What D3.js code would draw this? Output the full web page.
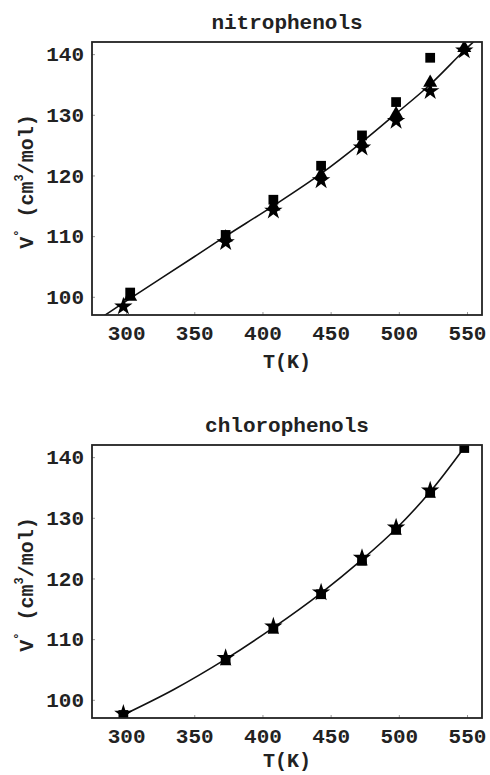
<!DOCTYPE html>
<html>
<head>
<meta charset="utf-8">
<script src="https://cdn.jsdelivr.net/npm/d3@7"></script>
<style>
  body { margin: 0; background: #fff; }
  text { font-family: "Liberation Mono", "Courier New", monospace; font-weight: bold; fill: #222; }
</style>
</head>
<body>
<svg id="chart" width="490" height="775"></svg>
<script>
// nitrophenols
const nitroSquareT = [303, 373, 408, 443, 473, 498, 523];
const nitroSquareV = [100.7, 110.2, 116.0, 121.6, 126.6, 132.1, 139.4];
const nitroTriangleT = [303, 373, 408, 443, 473, 498, 523, 548];
const nitroTriangleV = [100.0, 109.8, 114.9, 120.1, 125.3, 130.1, 135.3, 141.0];
const nitroStarT = [298, 373, 408, 443, 473, 498, 523, 548];
const nitroStarV = [98.4, 109.0, 114.2, 119.2, 124.6, 129.0, 133.9, 140.6];
const nitroFitT = [284, 300, 350, 373, 408, 443, 473, 498, 523, 548, 561];
const nitroFitV = [96.9, 99.3, 106.6, 110.0, 115.0, 120.3, 125.5, 130.2, 135.0, 140.6, 143.3];

// chlorophenols
const chloroSquareT = [298, 373, 408, 443, 473, 498, 523, 548];
const chloroSquareV = [97.5, 106.5, 111.7, 117.4, 122.9, 128.0, 134.1, 141.5];
const chloroStarT = [298, 373, 408, 443, 473, 498, 523];
const chloroStarV = [97.7, 106.9, 112.1, 117.7, 123.4, 128.4, 134.5];
const chloroFitT = [296, 335, 373, 408, 443, 473, 498, 523, 548];
const chloroFitV = [97.3, 101.7, 106.7, 111.9, 117.6, 123.1, 128.2, 134.3, 141.6];

const xTicks = [300, 350, 400, 450, 500, 550];
const yTicks = [100, 110, 120, 130, 140];

const svg = d3.select("#chart");
const zip = (T, V) => T.map((t, i) => ({ t, v: V[i] }));

const panels = [
  { title: "nitrophenols", top: 42, labelGap: 53,
    fit: zip(nitroFitT, nitroFitV),
    marks: [
      { shape: "square", data: zip(nitroSquareT, nitroSquareV) },
      { shape: "triangle", data: zip(nitroTriangleT, nitroTriangleV) },
      { shape: "star", data: zip(nitroStarT, nitroStarV) }
    ] },
  { title: "chlorophenols", top: 445, labelGap: 49,
    fit: zip(chloroFitT, chloroFitV),
    marks: [
      { shape: "square", data: zip(chloroSquareT, chloroSquareV) },
      { shape: "star", data: zip(chloroStarT, chloroStarV) }
    ] }
];

const left = 92, right = 482, plotH = 273;

const x = d3.scaleLinear().domain([275, 561]).range([left, right]);

const symbols = {
  square: d3.symbol().type(d3.symbolSquare).size(95)(),
  triangle: d3.symbol().type(d3.symbolTriangle).size(85)(),
  star: d3.symbol().type(d3.symbolStar).size(105)()
};

panels.forEach((p, k) => {
  const y = d3.scaleLinear().domain([97, 142]).range([p.top + plotH, p.top]);
  const g = svg.append("g");
  const clipId = "clip" + k;

  g.append("clipPath").attr("id", clipId)
    .append("rect")
      .attr("x", left).attr("y", p.top)
      .attr("width", right - left).attr("height", plotH);

  // axes: tiny inward ticks, labels outside
  const xAxis = g.append("g")
    .attr("transform", `translate(0,${p.top + plotH})`)
    .call(d3.axisBottom(x).tickValues(xTicks).tickSize(-3).tickPadding(10));
  const yAxis = g.append("g")
    .attr("transform", `translate(${left},0)`)
    .call(d3.axisLeft(y).tickValues(yTicks).tickSize(-3).tickPadding(8));

  [xAxis, yAxis].forEach(a => {
    a.select(".domain").remove();
    a.selectAll(".tick line").attr("stroke", "#999");
    a.selectAll(".tick text")
      .attr("font-family", null).attr("font-size", 21).attr("fill", "#222");
  });

  const plot = g.append("g").attr("clip-path", `url(#${clipId})`);

  plot.append("path")
    .datum(p.fit)
    .attr("fill", "none")
    .attr("stroke", "#111")
    .attr("stroke-width", 1.6)
    .attr("d", d3.line().x(d => x(d.t)).y(d => y(d.v)).curve(d3.curveCatmullRom));

  p.marks.forEach(m => {
    plot.append("g").selectAll("path")
      .data(m.data)
      .join("path")
        .attr("transform", d => `translate(${x(d.t)},${y(d.v)})`)
        .attr("d", symbols[m.shape])
        .attr("fill", "#000");
  });

  g.append("rect")
    .attr("x", left).attr("y", p.top)
    .attr("width", right - left).attr("height", plotH)
    .attr("fill", "none").attr("stroke", "#222").attr("stroke-width", 1.8);

  g.append("text")
    .attr("x", (left + right) / 2).attr("y", p.top - 13)
    .attr("text-anchor", "middle").attr("font-size", 21)
    .text(p.title);

  g.append("text")
    .attr("x", (left + right) / 2).attr("y", p.top + plotH + p.labelGap)
    .attr("text-anchor", "middle").attr("font-size", 20)
    .text("T(K)");

  const yl = g.append("text")
    .attr("transform", `translate(33,${p.top + plotH / 2 + 3}) rotate(-90)`)
    .attr("text-anchor", "middle").attr("font-size", 20);
  yl.append("tspan").text("V");
  yl.append("tspan").attr("font-size", 12).attr("dy", -10).text("°");
  yl.append("tspan").attr("dy", 10).text("  (cm");
  yl.append("tspan").attr("font-size", 12).attr("dy", -10).text("3");
  yl.append("tspan").attr("dy", 10).text("/mol)");
});
</script>
</body>
</html>
